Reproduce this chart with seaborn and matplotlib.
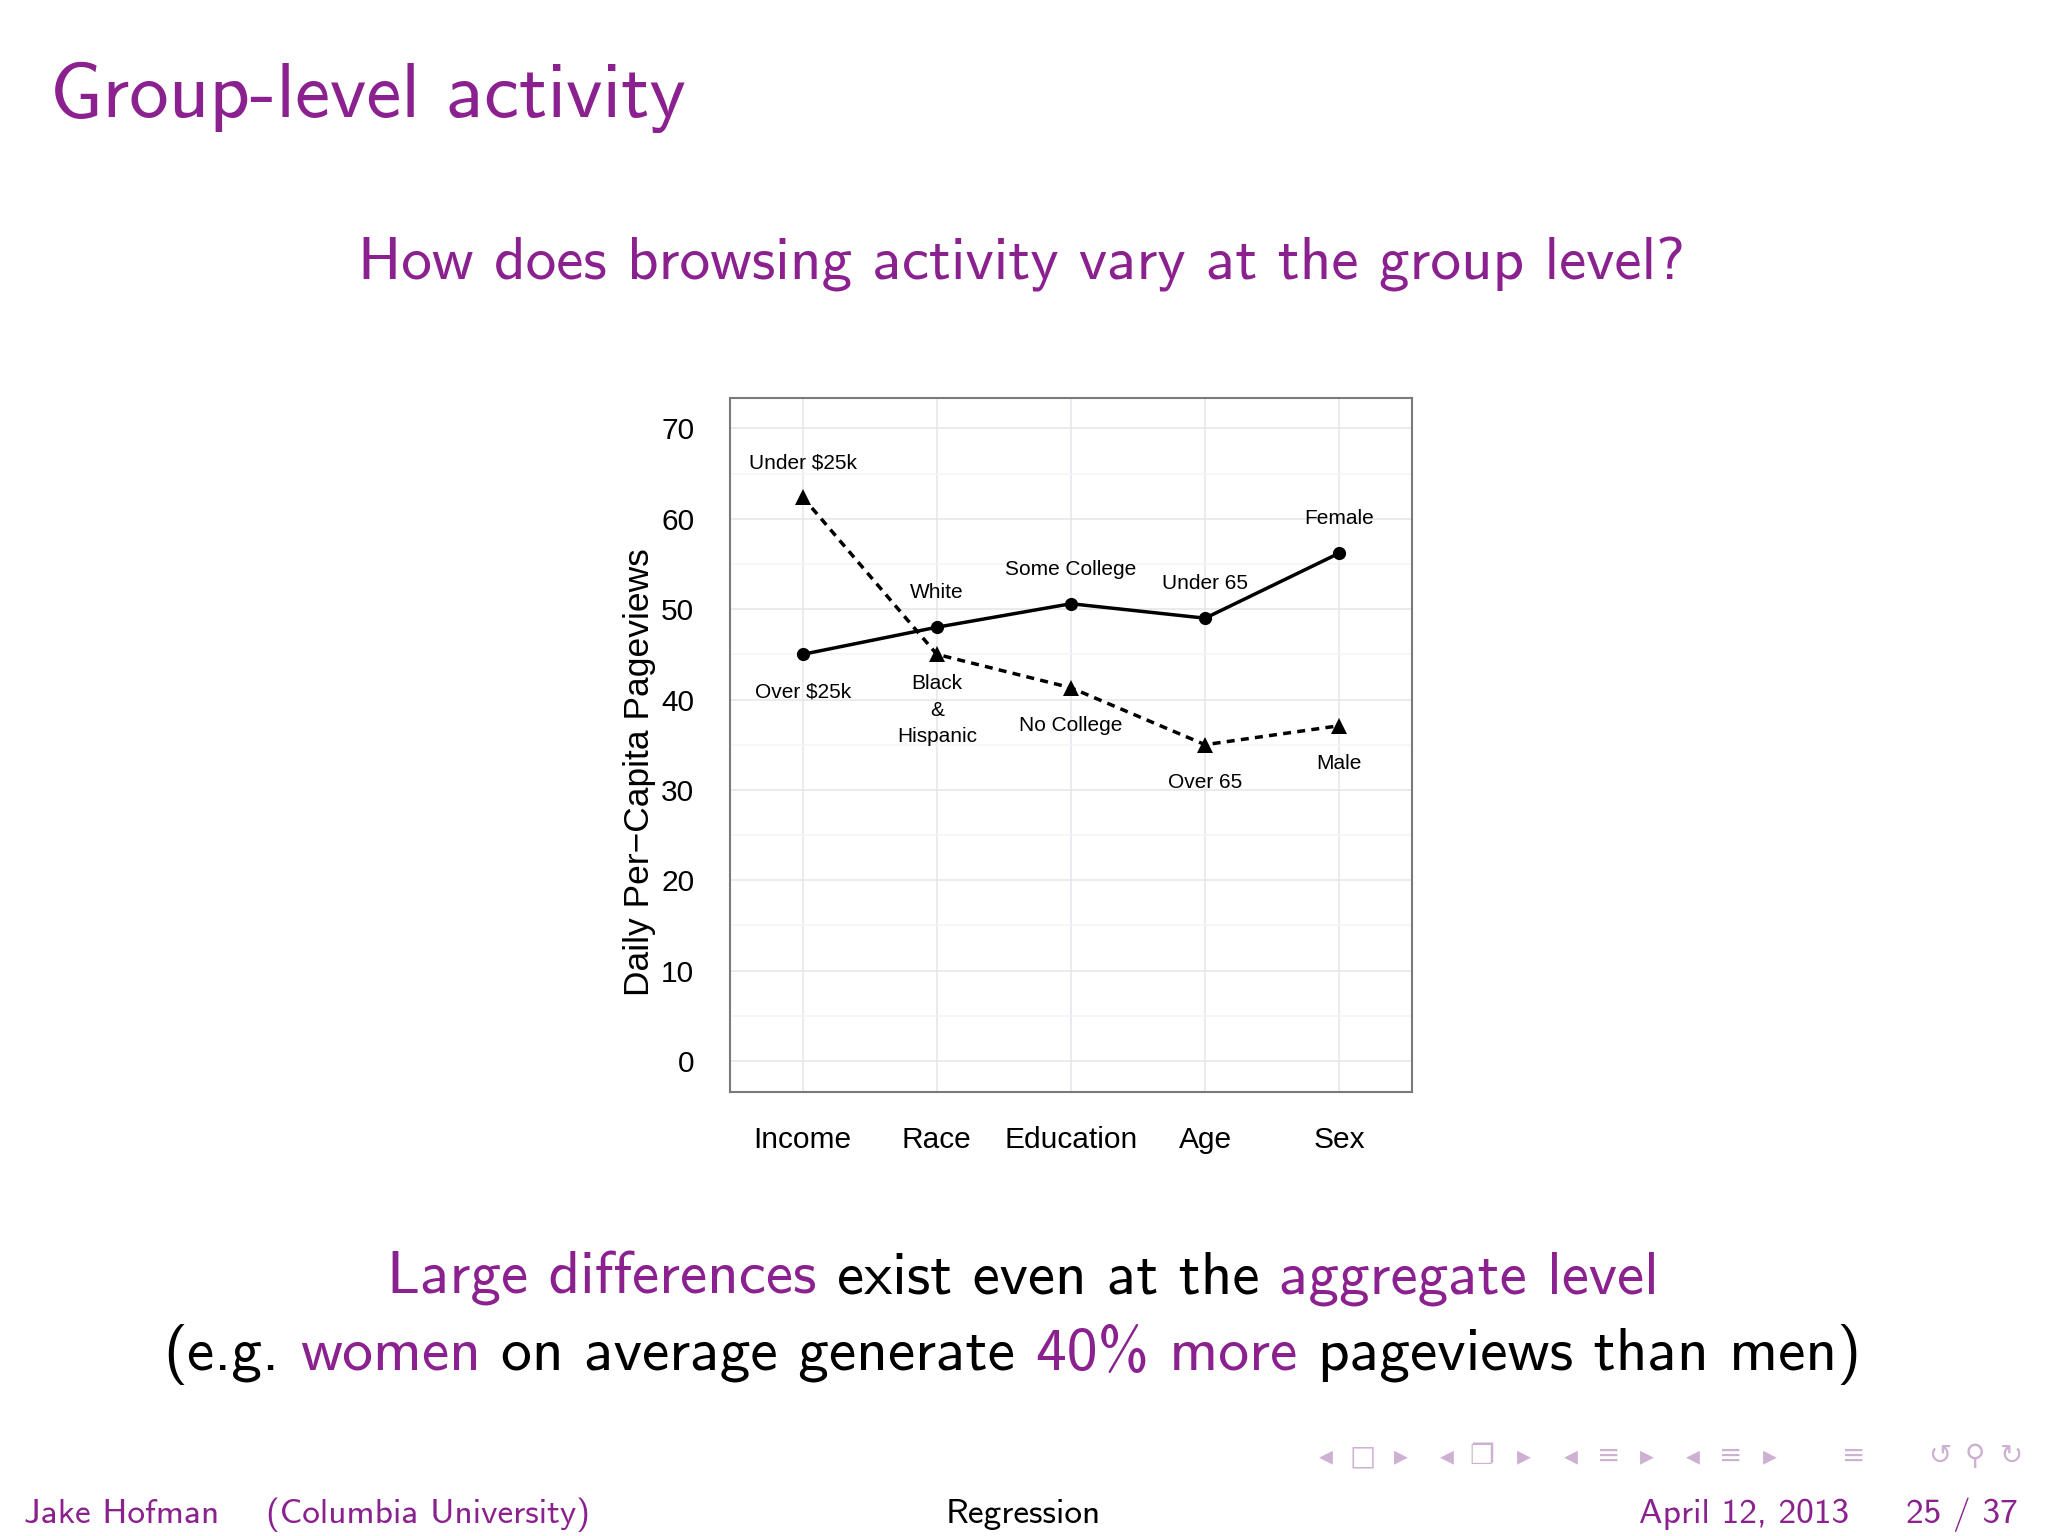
import matplotlib
matplotlib.use("Agg")
import matplotlib.pyplot as plt
import seaborn as sns

# Data
groups = ["Income", "Race", "Education", "Age", "Sex"]
solid_labels = ["Over \\$25k", "White", "Some College", "Under 65", "Female"]
solid_values = [45.0, 48.0, 50.6, 49.0, 56.2]
dashed_labels = ["Under \\$25k", "Black\n&\nHispanic", "No College", "Over 65", "Male"]
dashed_values = [62.4, 45.0, 41.3, 35.0, 37.1]
y_ticks = [0, 10, 20, 30, 40, 50, 60, 70]

PURPLE = "#8b218f"
SLIDE_FONT = "cmss10"

sns.set_theme(style="white")
plt.rcParams["font.family"] = ["Liberation Sans", "DejaVu Sans"]

W, H = 2048, 1536
fig = plt.figure(figsize=(W / 100, H / 100), dpi=100)
fig.patch.set_facecolor("white")

# plot panel
ax = fig.add_axes([729.7 / W, 1 - 1091.7 / H, 682 / W, 694 / H])
positions = list(range(len(groups)))

sns.lineplot(x=positions, y=solid_values, marker="o", markersize=9.5,
             color="black", linewidth=2.5, markeredgewidth=0, ax=ax)
sns.lineplot(x=positions, y=dashed_values, marker="^", markersize=11.5,
             color="black", linewidth=2.5, linestyle=(0, (2.3, 1.8)),
             markeredgewidth=0, ax=ax)

# point labels: above the higher point of each pair, below the lower one
for i in positions:
    pairs = [(solid_labels[i], solid_values[i], dashed_values[i]),
             (dashed_labels[i], dashed_values[i], solid_values[i])]
    for label, val, other in pairs:
        if val >= other:
            ypos = val + 3.8
        else:
            ypos = val - 4.2 - (label.count("\n"))
        ax.text(i, ypos, label, ha="center", va="center", fontsize=15,
                linespacing=1.5, color="black")

ax.set_xlim(-0.544, 4.54)
ax.set_ylim(-3.4, 73.4)
ax.set_xticks(positions, groups)
ax.set_yticks(y_ticks)
ax.set_yticks([5, 15, 25, 35, 45, 55, 65], minor=True)
ax.grid(True, which="major", color="#e6e4ea", linewidth=1.1)
ax.grid(True, which="minor", axis="y", color="#f4f3f6", linewidth=1.1)
ax.set_axisbelow(True)
ax.tick_params(which="major", direction="out", length=10, width=1.2,
               color="#222222", labelsize=21.5, labelcolor="black")
ax.tick_params(axis="x", pad=14.5)
ax.tick_params(axis="y", pad=15.5)
ax.tick_params(which="minor", length=0)
for sp in ax.spines.values():
    sp.set_visible(True)
    sp.set_color("#7a7a7a")
    sp.set_linewidth(1.5)
ax.set_xlabel("")
ax.set_ylabel("Daily Per\u2212Capita Pageviews", fontsize=25.5, color="black")
ax.yaxis.set_label_coords(-0.108, 0.46)

# slide text
renderer = fig.canvas.get_renderer()


def text_width(s, size):
    t = fig.text(0, 0, s, fontsize=size, family=SLIDE_FONT)
    w = t.get_window_extent(renderer=renderer).width
    t.remove()
    return w


def colored_line(parts, center_x, baseline_y, size):
    words = [p[0] for p in parts]
    total = text_width(" ".join(words), size)
    x0 = center_x - total / 2
    for k, (s, c) in enumerate(parts):
        start = text_width(" ".join(words[:k + 1]), size) - text_width(s, size)
        fig.text((x0 + start) / W, 1 - baseline_y / H, s, fontsize=size,
                 family=SLIDE_FONT, color=c, ha="left", va="baseline")


fig.text(49.6 / W, 1 - 117 / H, "Group-level activity", fontsize=56.7,
         family=SLIDE_FONT, color=PURPLE, ha="left", va="baseline")
fig.text(1022 / W, 1 - 280 / H,
         "How does browsing activity vary at the group level?",
         fontsize=44, family=SLIDE_FONT, color=PURPLE, ha="center",
         va="baseline")

colored_line([("Large differences", PURPLE), ("exist even at the", "black"),
              ("aggregate level", PURPLE)], 1023, 1294, 44)
colored_line([("(e.g.", "black"), ("women", PURPLE),
              ("on average generate", "black"), ("40% more", PURPLE),
              ("pageviews than men)", "black")], 1012, 1370, 44.3)

# footer
fy = 1 - 1523 / H
fig.text(23.5 / W, fy, "Jake Hofman", fontsize=25.5, family=SLIDE_FONT,
         color=PURPLE, va="baseline")
fig.text(266 / W, fy, "(Columbia University)", fontsize=25.5,
         family=SLIDE_FONT, color=PURPLE, va="baseline")
fig.text(1023 / W, fy, "Regression", fontsize=25.5, family=SLIDE_FONT,
         color="black", ha="center", va="baseline")
fig.text(1639 / W, fy, "April 12, 2013", fontsize=25.5, family=SLIDE_FONT,
         color=PURPLE, va="baseline")
fig.text(2018 / W, fy, "25 / 37", fontsize=25.5, family=SLIDE_FONT,
         color=PURPLE, ha="right", va="baseline")

# beamer navigation symbols
nav = [("\u25c2", 1015), ("\u25a1", 1043), ("\u25b8", 1073),
       ("\u25c2", 1108), ("\u2750", 1135), ("\u25b8", 1167),
       ("\u25c2", 1203), ("\u2261", 1232), ("\u25b8", 1261),
       ("\u25c2", 1296), ("\u2261", 1325), ("\u25b8", 1355),
       ("\u2261", 1419), ("\u21ba", 1485), ("\u26b2", 1512), ("\u21bb", 1540)]
for glyph, xs in nav:
    fig.text(xs * 1.306 / W, 1 - 1456 / H, glyph, fontsize=20,
             family="DejaVu Sans", color="#cdb0d2", ha="center", va="center")

fig.savefig("out.png", dpi=100, facecolor="white")
